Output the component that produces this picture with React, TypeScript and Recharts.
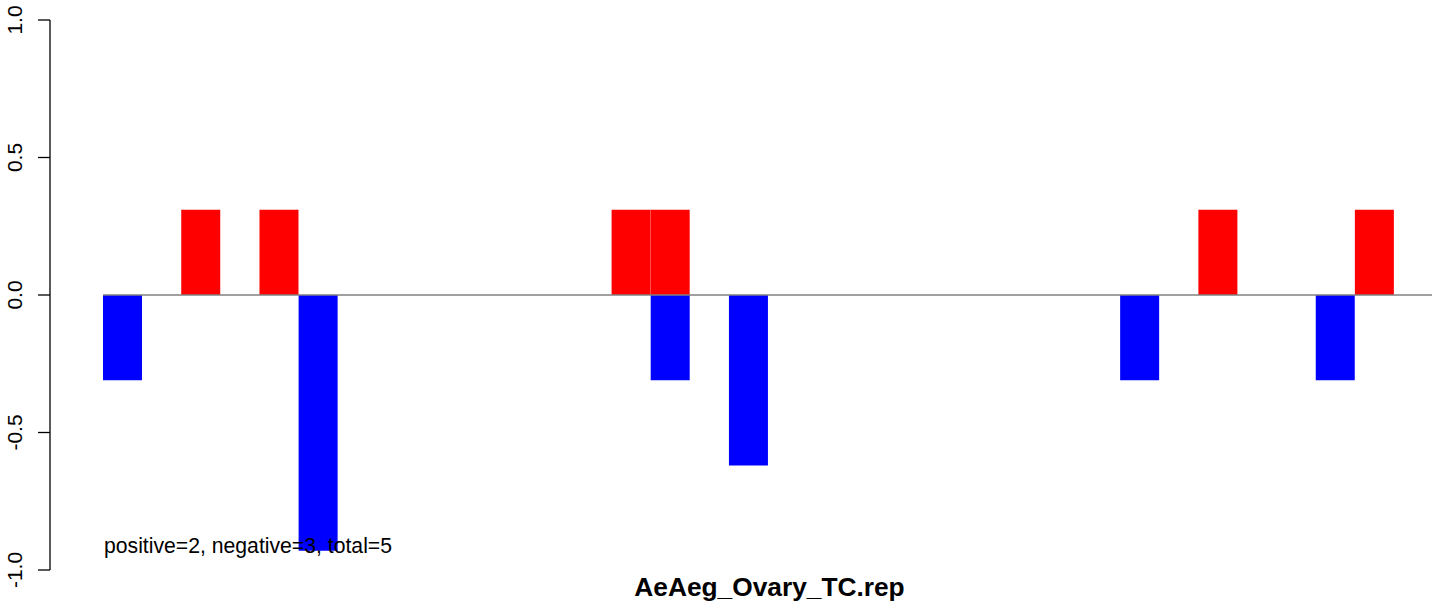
import React from "react";
import { BarChart, Bar, XAxis, YAxis, ReferenceLine } from "recharts";

const categories: string[] = Array.from({ length: 33 }, (_, i) => String(i + 1));
const positiveValues: number[] = [0, 0, 0.31, 0, 0.31, 0, 0, 0, 0, 0, 0, 0, 0, 0.31, 0.31, 0, 0, 0, 0, 0, 0, 0, 0, 0, 0, 0, 0, 0, 0.31, 0, 0, 0, 0.31];
const negativeValues: number[] = [-0.31, 0, 0, 0, 0, -0.93, 0, 0, 0, 0, 0, 0, 0, 0, -0.31, 0, -0.62, 0, 0, 0, 0, 0, 0, 0, 0, 0, -0.31, 0, 0, 0, 0, -0.31, 0];
const yTicks: number[] = [-1, -0.5, 0, 0.5, 1];
const titleText = "AeAeg_Ovary_TC.rep";
const noteText = "positive=2, negative=3, total=5";

const data = categories.map((c, i) => ({ name: c, pos: positiveValues[i], neg: negativeValues[i] }));

const FONT = "'Liberation Sans', Arial, Helvetica, sans-serif";

const YTick = (props: any) => {
  const { y, payload } = props;
  return (
    <text
      x={22}
      y={y}
      transform={`rotate(-90, 22, ${y})`}
      textAnchor="middle"
      fontSize={21}
      fontFamily={FONT}
      fill="#000"
    >
      {Number(payload.value).toFixed(1)}
    </text>
  );
};

const ZeroLine = (props: any) => {
  const { x1, x2, y1 } = props;
  return <line x1={x1 + 53} x2={x2} y1={y1} y2={y1} stroke="#808080" strokeWidth={1.3} />;
};

export default function App() {
  return (
    <div style={{ position: "absolute", left: 0, top: 0, width: 1444, height: 606, background: "#fff" }}>
      <BarChart
        width={1444}
        height={606}
        data={data}
        margin={{ top: 20, right: 12, bottom: 36, left: 0 }}
        barCategoryGap={0}
        barGap={0}
        stackOffset="sign"
      >
        <XAxis dataKey="name" hide padding={{ left: 53, right: 38 }} />
        <YAxis
          width={50}
          domain={[-1, 1]}
          ticks={yTicks}
          type="number"
          allowDataOverflow
          tickSize={12}
          tick={<YTick />}
          axisLine={{ stroke: "#000", strokeWidth: 1.3 }}
          tickLine={{ stroke: "#000", strokeWidth: 1.3 }}
        />
        <ReferenceLine y={0} shape={<ZeroLine />} />
        <Bar dataKey="pos" stackId="a" fill="#ff0000" isAnimationActive={false} />
        <Bar dataKey="neg" stackId="a" fill="#0000ff" isAnimationActive={false} />
      </BarChart>
      <svg
        width={1444}
        height={606}
        style={{ position: "absolute", left: 0, top: 0, pointerEvents: "none" }}
      >
        <text x={104} y={553} fontSize={21.2} fontFamily={FONT} fill="#000">
          {noteText}
        </text>
        <text x={769.5} y={596} textAnchor="middle" fontSize={26.3} fontWeight="bold" fontFamily={FONT} fill="#000">
          {titleText}
        </text>
      </svg>
    </div>
  );
}
